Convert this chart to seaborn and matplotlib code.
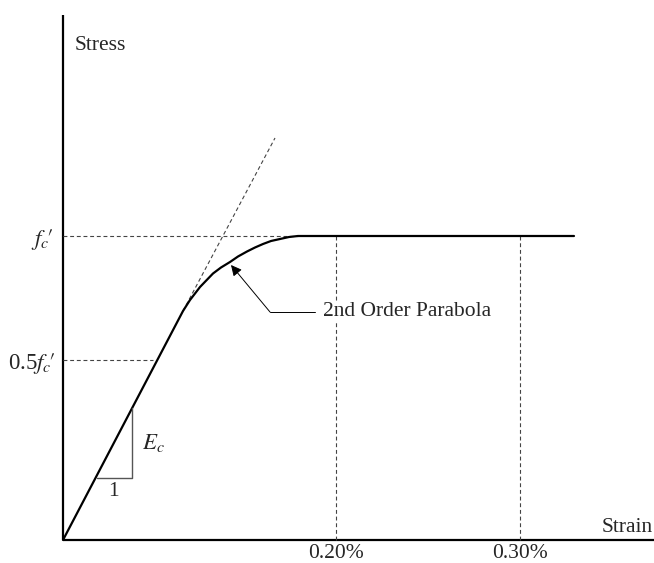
import numpy as np
import pandas as pd
import matplotlib
matplotlib.use("Agg")
import matplotlib.pyplot as plt
import seaborn as sns

# Diagram coordinates (origin at the axes corner)
curve_x = [0, 120, 127, 137, 150, 158, 167, 175, 184, 192, 200, 208, 217, 226, 235, 511]
curve_y = [0, 229, 240, 253, 266.5, 272.5, 278, 283.5, 288.5, 292.5, 296, 299, 301, 303, 304, 304]

tangent_x = [120, 212]
tangent_y = [229, 402]

fc = 304          # f'c level
half_fc = 180     # 0.5 f'c level
half_fc_end = 90  # where the 0.5f'c guide stops

strain_ticks = [273, 457]
strain_labels = ["0.20%", "0.30%"]

slope_x = [34, 69, 69]
slope_y = [62, 62, 132]

sns.set_theme(style="white")
plt.rcParams["font.family"] = ["Liberation Serif", "DejaVu Serif"]
plt.rcParams["mathtext.fontset"] = "stix"

fig = plt.figure(figsize=(6.54, 5.63), dpi=100)
ax = fig.add_axes([0, 0, 1, 1])
ax.set_xlim(-63, 591)
ax.set_ylim(-23, 540)
ax.axis("off")

dash = (0, (3.5, 2.5))
gcol = "#444444"

# axis lines
ax.plot([0, 0], [0, 525], color="black", lw=1.6, solid_capstyle="butt")
ax.plot([0, 591], [0, 0], color="black", lw=1.6, solid_capstyle="butt")

# guide lines
ax.plot([0, 235], [fc, fc], color=gcol, lw=0.8, ls=dash)
ax.plot([0, half_fc_end], [half_fc, half_fc], color=gcol, lw=0.8, ls=dash)
for x in strain_ticks:
    ax.plot([x, x], [0, fc], color=gcol, lw=0.8, ls=dash)
ax.plot(tangent_x, tangent_y, color=gcol, lw=0.8, ls=dash)

# stress-strain curve
df = pd.DataFrame({"strain": curve_x, "stress": curve_y})
sns.lineplot(data=df, x="strain", y="stress", sort=False, color="black",
             lw=1.6, ax=ax, legend=False)

# slope triangle
ax.plot(slope_x, slope_y, color="#555555", lw=1.0)

fs = 15.5
ax.text(12, 495, "Stress", fontsize=fs, ha="left", va="center")
ax.text(590, 13, "Strain", fontsize=fs, ha="right", va="center")
for x, lab in zip(strain_ticks, strain_labels):
    ax.text(x, -13, lab, fontsize=fs, ha="center", va="center")
ax.text(-10, fc - 3, r"$f_c\!\prime$", fontsize=fs + 1, ha="right", va="center")
ax.text(-8, half_fc - 3, r"0.5$f_c\!\prime$", fontsize=fs + 1, ha="right", va="center")
ax.text(50, 48, "1", fontsize=fs, ha="center", va="center")
ax.text(79, 97, r"$E_c$", fontsize=fs + 1, ha="left", va="center")

# annotation arrow
ax.plot([207, 252], [228, 228], color="black", lw=0.7)
ax.annotate("", xy=(168, 275), xytext=(207, 228),
            arrowprops=dict(arrowstyle="-|>", color="black", lw=0.7,
                            mutation_scale=16, shrinkA=0, shrinkB=0))
ax.text(260, 228, "2nd Order Parabola", fontsize=fs, ha="left", va="center",
        bbox=dict(facecolor="white", edgecolor="none", pad=1))

fig.savefig("out.png", dpi=100, facecolor="white")
